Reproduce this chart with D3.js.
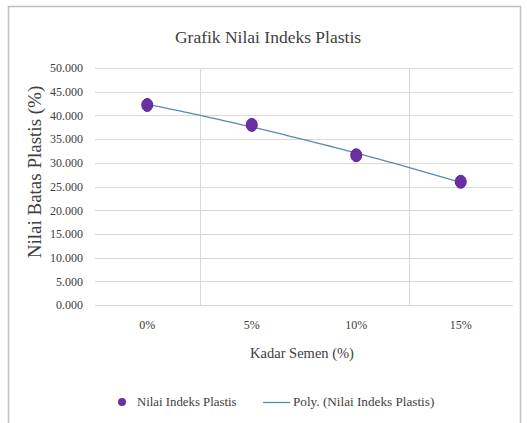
<!DOCTYPE html>
<html>
<head>
<meta charset="utf-8">
<script src="https://cdn.jsdelivr.net/npm/d3@7"></script>
<style>
  html, body { margin: 0; padding: 0; background: #fff; }
  svg { display: block; }
  svg text { font-family: "Times New Roman", "Liberation Serif", "DejaVu Serif", serif !important; fill: #404040; }
</style>
</head>
<body>
<svg id="chart" width="527" height="423"></svg>
<script>
// Plasticity index per cement content
const categories = ["0%", "5%", "10%", "15%"];
const plasticValues = [42.2, 38.0, 31.6, 26.0];
const yTickValues = [0, 5, 10, 15, 20, 25, 30, 35, 40, 45, 50];
const titleText = "Grafik Nilai Indeks Plastis";
const xAxisTitle = "Kadar Semen (%)";
const yAxisTitle = "Nilai Batas Plastis (%)";
const legendLabels = ["Nilai Indeks Plastis", "Poly. (Nilai Indeks Plastis)"];

const serif = "'Times New Roman', 'Liberation Serif', serif";
const svg = d3.select("#chart");
const plot = { left: 95, right: 513, top: 68, bottom: 305 };

// Chart frame
svg.append("rect")
  .attr("x", 8.5).attr("y", 6.5).attr("width", 512).attr("height", 430)
  .attr("fill", "#fff").attr("stroke", "#bfbfbf").attr("stroke-width", 1.5);

const x = d3.scaleBand().domain(categories).range([plot.left, plot.right]);
const y = d3.scaleLinear().domain([0, 50]).range([plot.bottom, plot.top]);

// Horizontal gridlines
svg.append("g").selectAll("line").data(yTickValues).join("line")
  .attr("x1", plot.left).attr("x2", plot.right)
  .attr("y1", d => Math.round(y(d)) + 0.5).attr("y2", d => Math.round(y(d)) + 0.5)
  .attr("stroke", "#d9d9d9").attr("stroke-width", 1);

// Vertical gridlines every second category boundary
const vGrid = [categories[1], categories[3]];
svg.append("g").selectAll("line").data(vGrid).join("line")
  .attr("x1", d => Math.round(x(d)) + 0.5).attr("x2", d => Math.round(x(d)) + 0.5)
  .attr("y1", plot.top).attr("y2", plot.bottom)
  .attr("stroke", "#d9d9d9").attr("stroke-width", 1);

// Y axis labels
const yAxis = d3.axisLeft(y).tickValues(yTickValues).tickSize(0).tickPadding(12)
  .tickFormat(d => d3.format(".3f")(d));
const gy = svg.append("g").attr("transform", `translate(${plot.left},0)`).call(yAxis)
  .attr("font-family", serif).attr("font-size", 12);
gy.select(".domain").remove();
gy.selectAll("text").attr("fill", "#404040");

// X axis labels
const xAxis = d3.axisBottom(x).tickSize(0).tickPadding(15);
const gx = svg.append("g").attr("transform", `translate(0,${plot.bottom})`).call(xAxis)
  .attr("font-family", serif).attr("font-size", 12);
gx.select(".domain").remove();
gx.selectAll("text").attr("fill", "#404040");

// Polynomial (order 2) trendline fitted to the series
const xs = categories.map((c, i) => i + 1);
function polyFit2(xv, yv) {
  const n = xv.length;
  let s = [0, 0, 0, 0, 0], t = [0, 0, 0];
  for (let i = 0; i < n; i++) {
    for (let k = 0; k <= 4; k++) s[k] += Math.pow(xv[i], k);
    for (let k = 0; k <= 2; k++) t[k] += yv[i] * Math.pow(xv[i], k);
  }
  const A = [[s[0], s[1], s[2], t[0]], [s[1], s[2], s[3], t[1]], [s[2], s[3], s[4], t[2]]];
  for (let c = 0; c < 3; c++) {
    for (let r = c + 1; r < 3; r++) {
      const f = A[r][c] / A[c][c];
      for (let k = c; k < 4; k++) A[r][k] -= f * A[c][k];
    }
  }
  const coef = [0, 0, 0];
  for (let r = 2; r >= 0; r--) {
    let v = A[r][3];
    for (let k = r + 1; k < 3; k++) v -= A[r][k] * coef[k];
    coef[r] = v / A[r][r];
  }
  return coef;
}
const coef = polyFit2(xs, plasticValues);
const xLin = d3.scaleLinear().domain([1, 4])
  .range([x(categories[0]) + x.bandwidth() / 2, x(categories[3]) + x.bandwidth() / 2]);
const trend = d3.range(1, 4.0001, 0.05).map(t => [t, coef[0] + coef[1] * t + coef[2] * t * t]);
svg.append("path")
  .datum(trend)
  .attr("d", d3.line().x(d => xLin(d[0])).y(d => y(d[1])))
  .attr("fill", "none").attr("stroke", "#5b87b8").attr("stroke-width", 1.3);

// Data markers
svg.append("g").selectAll("ellipse").data(plasticValues).join("ellipse")
  .attr("cx", (d, i) => x(categories[i]) + x.bandwidth() / 2)
  .attr("cy", d => y(d))
  .attr("rx", 5.5).attr("ry", 6.5)
  .attr("fill", "#6a2fa0").attr("stroke", "#5a2590").attr("stroke-width", 1);

// Title
svg.append("text").attr("x", 268).attr("y", 43).attr("text-anchor", "middle")
  .attr("font-family", serif).attr("font-size", 17.5).attr("fill", "#404040").text(titleText);

// Axis titles
svg.append("text").attr("x", 302).attr("y", 358).attr("text-anchor", "middle")
  .attr("font-family", serif).attr("font-size", 14.5).text(xAxisTitle);
svg.append("text")
  .attr("transform", `translate(41,172) rotate(-90)`)
  .attr("text-anchor", "middle").attr("font-family", serif).attr("font-size", 19).text(yAxisTitle);

// Legend
const legY = 402;
svg.append("circle").attr("cx", 122).attr("cy", legY).attr("r", 4).attr("fill", "#6a2fa0");
svg.append("text").attr("x", 137).attr("y", legY + 4).attr("font-family", serif).attr("font-size", 12.8).text(legendLabels[0]);
svg.append("line").attr("x1", 263).attr("x2", 290).attr("y1", legY + 0.5).attr("y2", legY + 0.5)
  .attr("stroke", "#5b87b8").attr("stroke-width", 1.3);
svg.append("text").attr("x", 293).attr("y", legY + 4).attr("font-family", serif).attr("font-size", 13.2).text(legendLabels[1]);
</script>
</body>
</html>
